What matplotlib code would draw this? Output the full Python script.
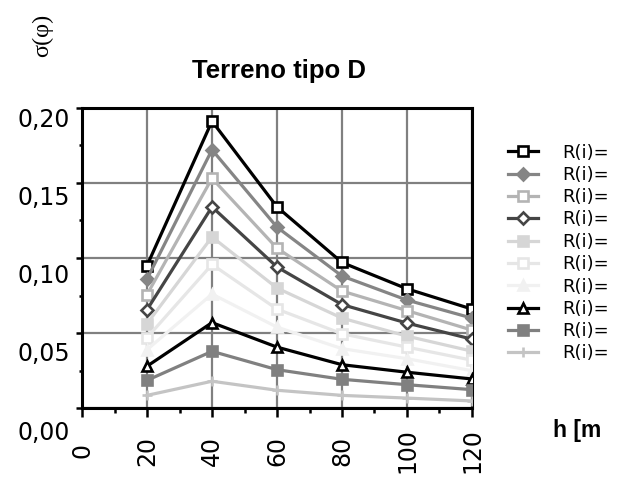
# -*- coding: utf-8 -*-
import matplotlib
matplotlib.use("Agg")
import matplotlib.pyplot as plt
from matplotlib.transforms import ScaledTranslation

plt.rcParams['font.family'] = ['DejaVu Sans']

# dati
h = [20, 40, 60, 80, 100, 120]
r1 = [0.095, 0.191, 0.134, 0.097, 0.0795, 0.066]
r2 = [0.086, 0.172, 0.1205, 0.088, 0.072, 0.060]
r3 = [0.0757, 0.153, 0.1065, 0.078, 0.065, 0.052]
r4 = [0.0656, 0.134, 0.094, 0.069, 0.0567, 0.046]
r5 = [0.0563, 0.114, 0.080, 0.060, 0.048, 0.038]
r6 = [0.047, 0.0957, 0.066, 0.0496, 0.0407, 0.032]
r7 = [0.039, 0.076, 0.054, 0.0397, 0.033, 0.025]
r8 = [0.028, 0.057, 0.0407, 0.029, 0.024, 0.0195]
r9 = [0.0186, 0.0379, 0.0257, 0.0193, 0.0157, 0.0124]
r10 = [0.0086, 0.018, 0.012, 0.0086, 0.0068, 0.0049]
serie = [r1, r2, r3, r4, r5, r6, r7, r8, r9, r10]
etichette = ["R(i)="] * 10

xticks = [0, 20, 40, 60, 80, 100, 120]
yticks = [0.00, 0.05, 0.10, 0.15, 0.20]
ylabels = ["0,00", "0,05", "0,10", "0,15", "0,20"]

# stile di ogni serie: colore, marker, faccia
stili = [
    ("#000000", "s", "white"),
    ("#858585", "D", "#858585"),
    ("#b4b4b4", "s", "white"),
    ("#454545", "D", "white"),
    ("#d6d6d6", "s", "#d6d6d6"),
    ("#e6e6e6", "s", "white"),
    ("#f1f1f1", "^", "#f1f1f1"),
    ("#000000", "^", "white"),
    ("#808080", "s", "#808080"),
    ("#c4c4c4", "+", "#c4c4c4"),
]

fig = plt.figure(figsize=(6.19, 4.79), dpi=100)
ax = fig.add_axes([0.1325, 0.1476, 0.6300, 0.6276])

for y, lab, (c, m, fc) in zip(serie, etichette, stili):
    ms = 6.8 if m != "D" else 5.8
    ax.plot(h, y, color=c, lw=2.3, marker=m, markersize=ms,
            markerfacecolor=fc, markeredgecolor=c, markeredgewidth=1.9,
            label=lab, zorder=3)

ax.set_xlim(0, 120)
ax.set_ylim(0, 0.20)
ax.set_xticks(xticks)
ax.set_xticks(range(10, 120, 20), minor=True)
ax.set_yticks(yticks)
ax.set_yticks([0.025, 0.075, 0.125, 0.175], minor=True)
ax.set_yticklabels(ylabels, fontsize=17, va="top")
ax.set_xticklabels([str(v) for v in xticks], fontsize=17, rotation=90,
                   va="center", ha="center")

ax.tick_params(axis="x", which="major", direction="out", length=6.5,
               width=1.8, pad=24)
ax.tick_params(axis="x", which="minor", direction="out", length=3.5, width=1.8)
ax.tick_params(axis="y", which="major", direction="out", length=4.3,
               width=1.8, pad=4.3)
ax.tick_params(axis="y", which="minor", direction="out", length=2.2, width=1.8)

# le etichette dell'asse y stanno un po' sotto i tick
for lbl, v in zip(ax.get_yticklabels(), yticks):
    k = (0.20 - v) / 0.05
    dy = (0 + 2.2 * k) / 72
    lbl.set_transform(lbl.get_transform() + ScaledTranslation(0, -dy, fig.dpi_scale_trans))

ax.grid(True, which="major", color="#808080", lw=1.6)
ax.set_axisbelow(True)
for s in ax.spines.values():
    s.set_linewidth(2.2)
    s.set_color("black")

fig.text(279.5 / 619, 1 - 77.7 / 479, "Terreno tipo D", fontsize=18.5,
         fontweight="bold", family="Liberation Sans", ha="center", va="baseline")
fig.text(43 / 619, 1 - 35 / 479, "σ(φ)", fontsize=17.5, family="Liberation Serif",
         rotation=90, ha="center", va="center")
fig.text(553 / 619, 1 - 436.7 / 479, "h [m", fontsize=16.5, fontweight="bold",
         family="Liberation Sans", ha="left", va="baseline")

leg = ax.legend(loc="upper left", bbox_to_anchor=(508 / 619, 1 - 143.5 / 479),
                bbox_transform=fig.transFigure, frameon=False, fontsize=13,
                borderpad=0, borderaxespad=0, labelspacing=0.24,
                handlelength=1.65, handletextpad=1.35)

fig.savefig("out.png", dpi=100)
